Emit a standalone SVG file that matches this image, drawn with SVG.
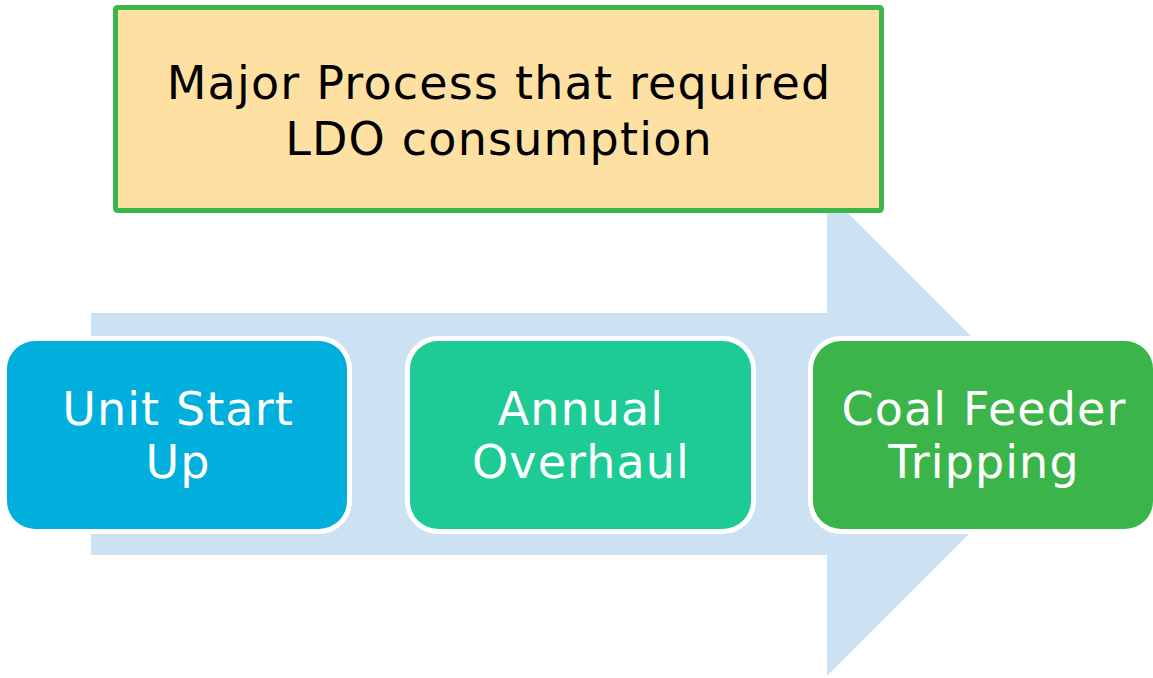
<svg xmlns="http://www.w3.org/2000/svg" width="1153" height="678" viewBox="0 0 1153 678">
  <style>
    .title { font-family: "DejaVu Sans", Verdana, sans-serif; font-size: 46px; letter-spacing: 1.2px; fill: #000000; text-anchor: middle; }
    .label { font-family: "DejaVu Sans", Verdana, sans-serif; font-size: 46px; letter-spacing: 1.1px; fill: #ffffff; text-anchor: middle; }
    .step { stroke: #ffffff; stroke-width: 10; paint-order: stroke; }
  </style>
  <rect width="1153" height="678" fill="#ffffff"/>

  <!-- background process arrow -->
  <g id="connectors">
    <path d="M91,313 H827 V192 L1069,434 L827,676 V555 H91 Z" fill="#cce2f2"/>
  </g>

  <!-- heading box -->
  <g id="heading">
    <rect x="115.5" y="7.5" width="766" height="203" fill="#fee0a2" stroke="#3cb54a" stroke-width="5" rx="2"/>
    <text class="title" x="499" y="99">Major Process that required</text>
    <text class="title" x="499" y="155">LDO consumption</text>
  </g>

  <g id="unit-start-up">
    <rect class="step" x="7" y="341" width="340" height="188" rx="28" fill="#00afdc"/>
    <text class="label" x="178" y="425">Unit Start</text>
    <text class="label" x="178" y="478">Up</text>
  </g>

  <g id="annual-overhaul">
    <rect class="step" x="410" y="341" width="341" height="188" rx="28" fill="#1ecb94"/>
    <text class="label" x="581" y="425">Annual</text>
    <text class="label" x="581" y="478">Overhaul</text>
  </g>

  <g id="coal-feeder-tripping">
    <rect class="step" x="813" y="341" width="340" height="188" rx="28" fill="#3bb54a"/>
    <text class="label" x="984" y="425">Coal Feeder</text>
    <text class="label" x="984" y="478">Tripping</text>
  </g>
</svg>
